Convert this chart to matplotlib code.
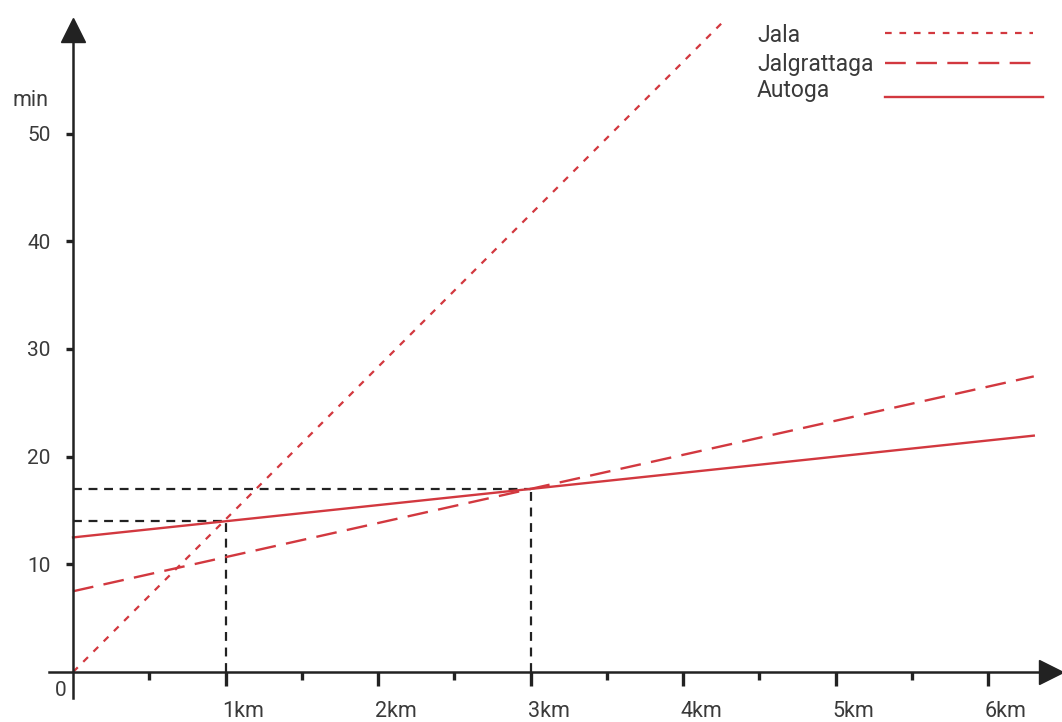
import matplotlib
matplotlib.use("Agg")
import matplotlib.pyplot as plt
import matplotlib.transforms as mtransforms

plt.rcParams['font.family'] = ['Roboto', 'DejaVu Sans']

# Data
jala_x = [0, 4.25]
jala_y = [0, 60.2]
jalg_x = [0, 6.3]
jalg_y = [7.5, 27.45]
auto_x = [0, 6.3]
auto_y = [12.5, 21.95]
ref1 = (1, 14)
ref2 = (3, 17)
x_ticks = [1, 2, 3, 4, 5, 6]
x_labels = ['1km', '2km', '3km', '4km', '5km', '6km']
x_minor = [0.5, 1.5, 2.5, 3.5, 4.5, 5.5]
y_ticks = [10, 20, 30, 40, 50]
labels = ['Jala', 'Jalgrattaga', 'Autoga']

RED = '#d2383f'
INK = '#222222'
TXT = '#3a3a3a'

fig = plt.figure(figsize=(10.62, 7.22), dpi=100)
ax = fig.add_axes([0, 0, 1, 1])
ax.set_xlim(-0.479, 6.485)
ax.set_ylim(-4.64, 62.4)

# reference dashed lines
ref_style = dict(color=INK, lw=1.6, dashes=(4, 3))
ax.plot([0, ref2[0]], [ref2[1], ref2[1]], **ref_style)
ax.plot([ref2[0], ref2[0]], [0, ref2[1]], **ref_style)
ax.plot([0, ref1[0]], [ref1[1], ref1[1]], **ref_style)
ax.plot([ref1[0], ref1[0]], [0, ref1[1]], **ref_style)

# series
styles = [dict(dashes=(3, 3.5), lw=1.6), dict(dashes=(8.8, 4.4), lw=1.7), dict(lw=1.7)]
ax.plot(jala_x, jala_y, color=RED, clip_on=False, **styles[0])
ax.plot(jalg_x, jalg_y, color=RED, clip_on=False, **styles[1])
ax.plot(auto_x, auto_y, color=RED, clip_on=False, **styles[2])

# axes
for s in ['top', 'right']:
    ax.spines[s].set_visible(False)
ax.spines['left'].set_position(('data', 0))
ax.spines['bottom'].set_position(('data', 0))
ax.spines['left'].set_bounds(-2.4, 59.8)
ax.spines['bottom'].set_bounds(-0.16, 6.40)
for s in ['left', 'bottom']:
    ax.spines[s].set_linewidth(1.8)
    ax.spines[s].set_color(INK)
ax.plot([0], [59.6], marker='^', ms=17, color=INK, clip_on=False)
ax.plot([6.41], [0], marker='>', ms=17, color=INK, clip_on=False)

ax.set_xticks(x_ticks)
ax.set_xticklabels(x_labels)
ax.set_xticks(x_minor, minor=True)
ax.set_yticks(y_ticks)
ax.set_yticklabels([str(v) for v in y_ticks])
ax.tick_params(axis='x', which='major', direction='out', length=10, width=2.4,
               color=INK, labelsize=15.5, labelcolor=TXT, pad=10.5)
ax.tick_params(axis='x', which='minor', direction='out', length=5.5, width=2.4, color=INK)
ax.tick_params(axis='y', which='major', direction='out', length=5, width=2.4,
               color=INK, labelsize=15, labelcolor=TXT, pad=11)
shift = mtransforms.ScaledTranslation(-3 / 100, 0, fig.dpi_scale_trans)
for lbl in ax.get_xticklabels():
    lbl.set_horizontalalignment('left')
    lbl.set_transform(lbl.get_transform() + shift)

ax.text(-0.04, -1.7, '0', ha='right', va='center', fontsize=15, color=TXT)
ax.text(-0.164, 53.1, 'min', ha='right', va='center', fontsize=15.5, color=TXT)

# legend (manual)
tr = ax.transAxes
W, H = 1062, 722
text_y = [36, 64, 91]
line_y = [33, 63, 97]
line_end = [1033, 1040, 1043]
for lab, ty, ly, le, st in zip(labels, text_y, line_y, line_end, styles):
    ax.text(757 / W, 1 - ty / H, lab, transform=tr, ha='left', va='center',
            fontsize=16.5, color=TXT)
    ax.plot([885 / W, le / W], [1 - ly / H, 1 - ly / H], transform=tr,
            color=RED, clip_on=False, **st)

fig.savefig('out.png', dpi=100)
